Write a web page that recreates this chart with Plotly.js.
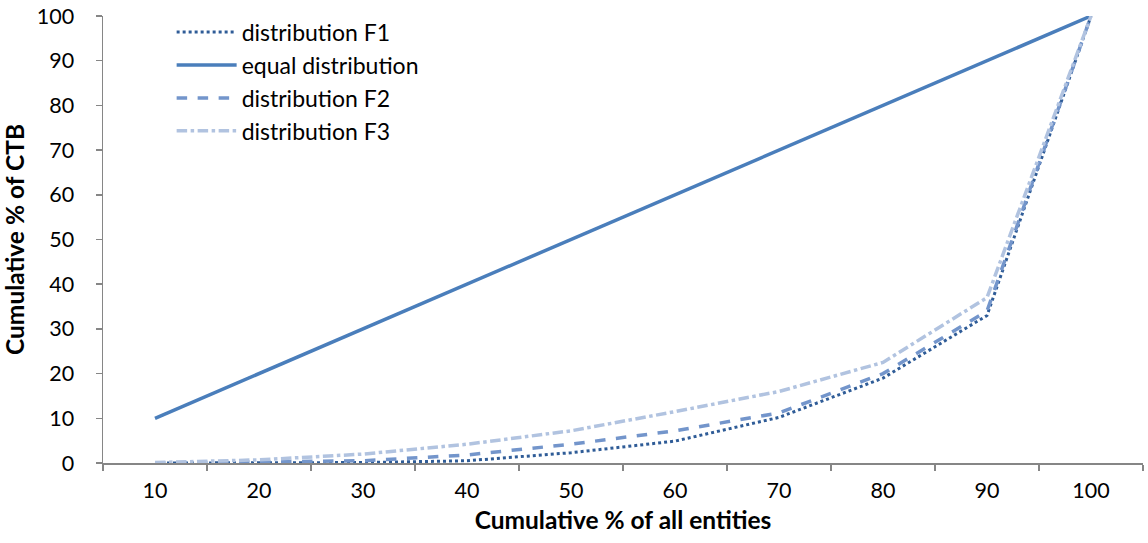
<!DOCTYPE html>
<html>
<head>
<meta charset="utf-8">
<script src="https://cdn.plot.ly/plotly-3.0.1.min.js"></script>
<style>html,body{margin:0;padding:0;background:#fff}#chart{width:1148px;height:543px}</style>
</head>
<body>
<div id="chart"></div>
<script>
const categories = ["10","20","30","40","50","60","70","80","90","100"];
const distF1 = [0, 0, 0.1, 0.5, 2.3, 4.9, 10.2, 19, 33, 100];
const equalDist = [10, 20, 30, 40, 50, 60, 70, 80, 90, 100];
const distF2 = [0, 0.2, 0.5, 1.8, 4.2, 7.2, 11.2, 20, 34, 100];
const distF3 = [0.1, 0.7, 2.0, 4.2, 7.2, 11.5, 16, 22.5, 37, 100];

const traces = [
  {x: categories, y: distF1, name: "distribution F1", mode: "lines",
   line: {color: "#2F5C97", width: 3, dash: "dot"}},
  {x: categories, y: equalDist, name: "equal distribution", mode: "lines",
   line: {color: "#4A7EBB", width: 3.5, dash: "solid"}},
  {x: categories, y: distF2, name: "distribution F2", mode: "lines",
   line: {color: "#7395CB", width: 3.5, dash: "dash"}},
  {x: categories, y: distF3, name: "distribution F3", mode: "lines",
   line: {color: "#B1C3E0", width: 3.5, dash: "dashdot"}}
];

const fam = "Lato, 'Open Sans', sans-serif";
const layout = {
  width: 1148, height: 543,
  margin: {l: 103, r: 5, t: 16, b: 80},
  paper_bgcolor: "#fff", plot_bgcolor: "#fff",
  font: {family: fam, size: 21, color: "#000"},
  showlegend: true,
  legend: {x: 0.066, y: 1.012, xanchor: "left", yanchor: "top", bgcolor: "rgba(0,0,0,0)",
           font: {family: fam, size: 23, color: "#000"}, tracegroupgap: 0, itemwidth: 60},
  xaxis: {type: "category", tickson: "boundaries", ticks: "outside", ticklen: 6,
          tickcolor: "#868686", tickwidth: 1.5, showline: true, linecolor: "#868686", linewidth: 1.5,
          showgrid: false, zeroline: false, range: [-0.5, 9.5], ticklabelstandoff: 8,
          tickfont: {family: fam, size: 21.5, color: "#000"},
          title: {text: "<b>Cumulative % of all entities</b>", font: {family: fam, size: 24.5, color: "#000"}, standoff: 9}},
  yaxis: {range: [0, 100], dtick: 10, ticks: "outside", ticklen: 6,
          tickcolor: "#868686", tickwidth: 1.5, showline: true, linecolor: "#868686", linewidth: 1.5,
          showgrid: false, zeroline: false, ticklabelstandoff: 17,
          tickfont: {family: fam, size: 21.5, color: "#000"},
          title: {text: "<b>Cumulative % of CTB</b>", font: {family: fam, size: 24.5, color: "#000"}, standoff: 10}}
};
Plotly.newPlot("chart", traces, layout, {displayModeBar: false, staticPlot: true});
</script>
</body>
</html>
